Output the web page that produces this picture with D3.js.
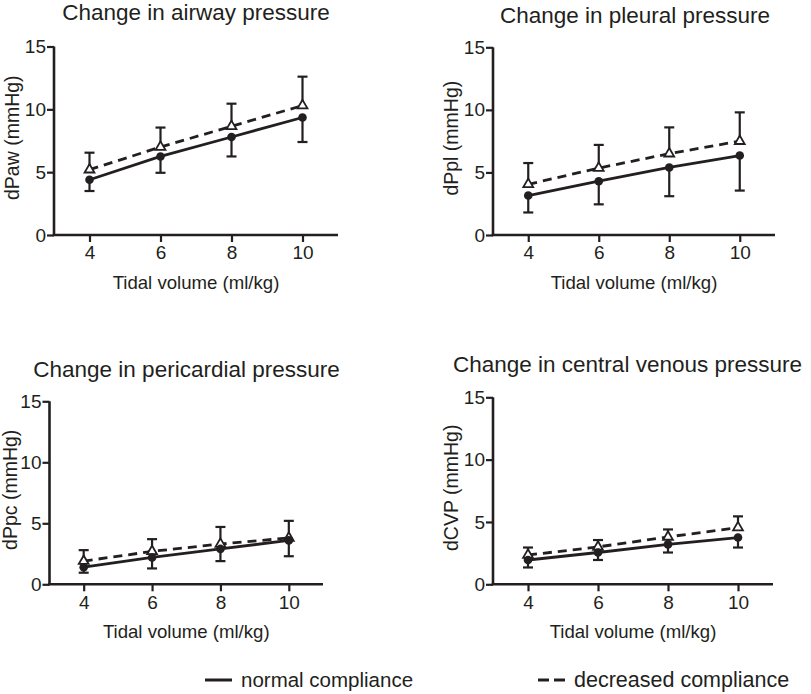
<!DOCTYPE html>
<html>
<head>
<meta charset="utf-8">
<script src="https://cdn.jsdelivr.net/npm/d3@7"></script>
<style>
  html, body { margin: 0; padding: 0; background: #fff; }
  svg { display: block; font-family: "Liberation Sans", Arial, sans-serif; }
</style>
</head>
<body>
<svg id="chart" width="811" height="694"></svg>
<script>
// ---- data ----
const tidalVolume = [4, 6, 8, 10];
const xTicks = [4, 6, 8, 10];
const yTicks = [0, 5, 10, 15];
const seriesNames = ["normal compliance", "decreased compliance"];

const panelTitles = ["Change in airway pressure", "Change in pleural pressure",
                     "Change in pericardial pressure", "Change in central venous pressure"];
const yLabels = ["dPaw (mmHg)", "dPpl (mmHg)", "dPpc (mmHg)", "dCVP (mmHg)"];
const xLabel = "Tidal volume (ml/kg)";

const pawNormal = [4.4, 6.25, 7.8, 9.35];
const pawNormalSD = [0.9, 1.3, 1.55, 1.95];
const pawDecreased = [5.2, 7.0, 8.65, 10.3];
const pawDecreasedSD = [1.35, 1.55, 1.8, 2.3];

const pplNormal = [3.15, 4.3, 5.4, 6.35];
const pplNormalSD = [1.35, 1.85, 2.3, 2.8];
const pplDecreased = [4.05, 5.35, 6.5, 7.5];
const pplDecreasedSD = [1.7, 1.85, 2.1, 2.3];

const ppcNormal = [1.4, 2.2, 2.9, 3.6];
const ppcNormalSD = [0.45, 0.9, 1.0, 1.3];
const ppcDecreased = [1.9, 2.7, 3.3, 3.8];
const ppcDecreasedSD = [0.9, 1.0, 1.4, 1.4];

const cvpNormal = [1.95, 2.55, 3.2, 3.75];
const cvpNormalSD = [0.6, 0.6, 0.65, 0.8];
const cvpDecreased = [2.35, 3.0, 3.8, 4.55];
const cvpDecreasedSD = [0.6, 0.55, 0.6, 0.9];

// ---- layout ----
const ink = "#231f20";
const panels = [
  { left: 54, right: 338, top: 46.5, bottom: 235, titleX: 196, titleY: 20,
    normal: pawNormal, normalSD: pawNormalSD, decreased: pawDecreased, decreasedSD: pawDecreasedSD },
  { left: 493, right: 775, top: 47.3, bottom: 235, titleX: 635, titleY: 23,
    normal: pplNormal, normalSD: pplNormalSD, decreased: pplDecreased, decreasedSD: pplDecreasedSD },
  { left: 49.5, right: 323, top: 401.3, bottom: 584.3, titleX: 186.5, titleY: 376.5,
    normal: ppcNormal, normalSD: ppcNormalSD, decreased: ppcDecreased, decreasedSD: ppcDecreasedSD },
  { left: 493, right: 773, top: 397.3, bottom: 584.3, titleX: 627.5, titleY: 372,
    normal: cvpNormal, normalSD: cvpNormalSD, decreased: cvpDecreased, decreasedSD: cvpDecreasedSD }
];

const svg = d3.select("#chart");

panels.forEach((p, i) => {
  const x = d3.scaleLinear().domain([3, 11]).range([p.left, p.right]);
  const y = d3.scaleLinear().domain([0, 15]).range([p.bottom, p.top]);
  const g = svg.append("g");

  // title
  g.append("text").attr("x", p.titleX).attr("y", p.titleY)
    .attr("text-anchor", "middle").attr("font-size", 22.5).attr("fill", ink)
    .text(panelTitles[i]);

  // axes
  const xAxis = g.append("g").attr("transform", `translate(0,${p.bottom})`)
    .call(d3.axisBottom(x).tickValues(xTicks).tickSize(7).tickPadding(4).tickSizeOuter(0));
  const yAxis = g.append("g").attr("transform", `translate(${p.left},0)`)
    .call(d3.axisLeft(y).tickValues(yTicks).tickSize(7).tickPadding(1).tickSizeOuter(0));
  [xAxis, yAxis].forEach(a => {
    a.select(".domain").attr("stroke", ink).attr("stroke-width", 2.6);
    a.selectAll(".tick line").attr("stroke", ink).attr("stroke-width", 2.2);
    a.selectAll(".tick text").attr("fill", ink).attr("font-size", 19)
      .attr("font-family", "Liberation Sans, Arial, sans-serif");
  });
  xAxis.select(".domain").attr("d", `M${p.left - 1.3},0H${p.right}`);
  yAxis.select(".domain").attr("d", `M0,${p.bottom}V${p.top}`);

  // axis labels
  g.append("text").attr("x", (p.left + p.right) / 2).attr("y", p.bottom + 54)
    .attr("text-anchor", "middle").attr("font-size", 18.6).attr("fill", ink).text(xLabel);
  g.append("text")
    .attr("transform", `translate(${Math.max(p.left - 35, 17)},${(p.top + p.bottom) / 2 - 3}) rotate(-90)`)
    .attr("text-anchor", "middle").attr("font-size", 19.5).attr("fill", ink).text(yLabels[i]);

  const normalPts = tidalVolume.map((v, k) => ({ v, m: p.normal[k], sd: p.normalSD[k] }));
  const decPts = tidalVolume.map((v, k) => ({ v, m: p.decreased[k], sd: p.decreasedSD[k] }));
  const line = d3.line().x(d => x(d.v)).y(d => y(d.m));

  // error bars: decreased upward, normal downward
  const bars = [[decPts, 1], [normalPts, -1]];
  bars.forEach(([pts, dir]) => {
    const eb = g.append("g").attr("stroke", ink).attr("stroke-width", 2.2).attr("fill", "none");
    eb.selectAll("line.v").data(pts).join("line")
      .attr("x1", d => x(d.v)).attr("x2", d => x(d.v))
      .attr("y1", d => y(d.m)).attr("y2", d => y(d.m + dir * d.sd));
    eb.selectAll("line.c").data(pts).join("line")
      .attr("x1", d => x(d.v) - 5).attr("x2", d => x(d.v) + 5)
      .attr("y1", d => y(d.m + dir * d.sd)).attr("y2", d => y(d.m + dir * d.sd));
  });

  // lines
  g.append("path").datum(decPts).attr("d", line).attr("fill", "none")
    .attr("stroke", ink).attr("stroke-width", 2.8).attr("stroke-dasharray", "9,6");
  g.append("path").datum(normalPts).attr("d", line).attr("fill", "none")
    .attr("stroke", ink).attr("stroke-width", 2.8);

  // markers
  const tri = d3.symbol().type(d3.symbolTriangle).size(42);
  g.selectAll("path.tri").data(decPts).join("path")
    .attr("transform", d => `translate(${x(d.v)},${y(d.m)})`)
    .attr("d", tri()).attr("fill", "#fff").attr("stroke", ink).attr("stroke-width", 1.8);
  g.selectAll("circle.dot").data(normalPts).join("circle")
    .attr("cx", d => x(d.v)).attr("cy", d => y(d.m)).attr("r", 4.3).attr("fill", ink);
});

// legend
const legend = svg.append("g").attr("fill", ink);
const legendItems = [
  { name: seriesNames[0], x0: 205, dash: null, size: 20.5 },
  { name: seriesNames[1], x0: 538, dash: "11,5", size: 21.5 }
];
legendItems.forEach(it => {
  legend.append("line").attr("x1", it.x0).attr("x2", it.x0 + 27).attr("y1", 680).attr("y2", 680)
    .attr("stroke", ink).attr("stroke-width", 3).attr("stroke-dasharray", it.dash);
  legend.append("text").attr("x", it.x0 + 36).attr("y", 687).attr("font-size", it.size)
    .attr("fill", ink).text(it.name);
});
</script>
</body>
</html>
